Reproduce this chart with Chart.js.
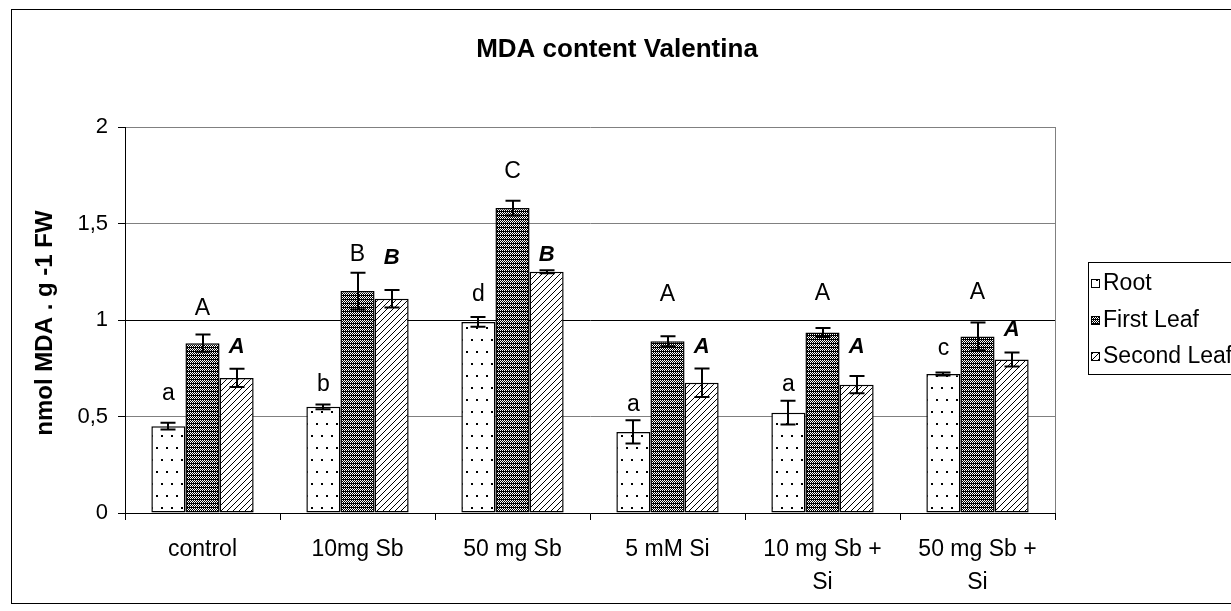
<!DOCTYPE html>
<html><head><meta charset="utf-8">
<script src="https://cdn.jsdelivr.net/npm/chart.js@4.4.0/dist/chart.umd.min.js"></script>
<style>html,body{margin:0;padding:0;background:#fff;}#wrap{position:relative;width:1231px;height:611px;}</style>
</head><body><div id="wrap"><canvas id="c" width="1231" height="611"></canvas></div>
<script>
const chartTitle = 'MDA content Valentina';
const yAxisTitle = 'nmol MDA . g -1 FW';
const categories = ['control', '10mg Sb', '50 mg Sb', '5 mM Si', ['10 mg Sb +', 'Si'], ['50 mg Sb +', 'Si']];
const seriesNames = ['Root', 'First Leaf', 'Second Leaf'];
const rootValues = [0.45, 0.55, 0.99, 0.42, 0.52, 0.72];
const rootErrors = [0.017, 0.012, 0.025, 0.06, 0.062, 0.008];
const firstLeafValues = [0.88, 1.15, 1.58, 0.89, 0.935, 0.915];
const firstLeafErrors = [0.045, 0.095, 0.038, 0.026, 0.023, 0.072];
const secondLeafValues = [0.70, 1.11, 1.25, 0.675, 0.665, 0.795];
const secondLeafErrors = [0.047, 0.045, 0.008, 0.074, 0.045, 0.036];
const rootLetters = ['a', 'b', 'd', 'a', 'a', 'c'];
const firstLeafLetters = ['A', 'B', 'C', 'A', 'A', 'A'];
const secondLeafLetters = ['A', 'B', 'B', 'A', 'A', 'A'];
const rootLetterLevels = [0.617, 0.663, 1.13, 0.56, 0.663, 0.85];
const firstLeafLetterLevels = [1.057, 1.337, 1.768, 1.13, 1.135, 1.14];
const secondLeafLetterLevels = [0.86, 1.32, 1.337, 0.86, 0.86, 0.948];
const yTickLabels = ['0', '0,5', '1', '1,5', '2'];

const FONT = "'Liberation Sans', Arial, sans-serif";

function makeTile(w, h, drawFn) {
  const c = document.createElement('canvas');
  c.width = w; c.height = h;
  const x = c.getContext('2d');
  drawFn(x, w, h);
  return x;
}
function patternOf(tileCtx) {
  const ctx = document.getElementById('c').getContext('2d');
  return ctx.createPattern(tileCtx.canvas, 'repeat');
}
const dotTile = makeTile(10, 24, (x, w, h) => {
  x.fillStyle = '#fff'; x.fillRect(0, 0, w, h);
  x.fillStyle = '#000'; x.fillRect(1, 3, 2, 2); x.fillRect(6, 15, 2, 2);
});
const checkTile = makeTile(4, 4, (x, w, h) => {
  x.fillStyle = '#000'; x.fillRect(0, 0, w, h);
  x.fillStyle = '#fff';
  [[0,0],[2,0],[1,1],[3,1],[0,2],[2,2]].forEach(p => x.fillRect(p[0], p[1], 1, 1));
});
const hatchTile = makeTile(6, 6, (x, w, h) => {
  x.fillStyle = '#fff'; x.fillRect(0, 0, w, h);
  x.fillStyle = '#000';
  for (let i = 0; i < 6; i++) { for (let j = 0; j < 6; j++) { if ((i + j) % 6 === 5) x.fillRect(i, j, 1, 1); } }
});
const fills = [patternOf(dotTile), patternOf(checkTile), patternOf(hatchTile)];

const errorsBySeries = [rootErrors, firstLeafErrors, secondLeafErrors];
const lettersBySeries = [rootLetters, firstLeafLetters, secondLeafLetters];
const letterLevelsBySeries = [rootLetterLevels, firstLeafLetterLevels, secondLeafLetterLevels];
const letterFonts = ['23px ' + FONT, '23px ' + FONT, 'italic bold 22px ' + FONT];

const overlay = {
  id: 'overlay',
  beforeDraw(chart) {
    const ctx = chart.ctx;
    ctx.save(); ctx.fillStyle = '#fff'; ctx.fillRect(0, 0, chart.width, chart.height); ctx.restore();
  },
  afterDatasetsDraw(chart) {
    const ctx = chart.ctx, ys = chart.scales.y;
    ctx.save();
    chart.data.datasets.forEach((ds, di) => {
      const meta = chart.getDatasetMeta(di);
      meta.data.forEach((bar, i) => {
        const v = ds.data[i], e = errorsBySeries[di][i];
        const yt = ys.getPixelForValue(v + e), yb = ys.getPixelForValue(v - e);
        const x = Math.round(bar.x);
        ctx.strokeStyle = '#000'; ctx.lineWidth = 2;
        ctx.beginPath();
        ctx.moveTo(x, yt); ctx.lineTo(x, yb);
        ctx.moveTo(x - 7.5, yt); ctx.lineTo(x + 7.5, yt);
        ctx.moveTo(x - 7.5, yb); ctx.lineTo(x + 7.5, yb);
        ctx.stroke();
        ctx.fillStyle = '#000';
        ctx.font = letterFonts[di];
        ctx.textAlign = 'center'; ctx.textBaseline = 'middle';
        ctx.fillText(lettersBySeries[di][i], bar.x, ys.getPixelForValue(letterLevelsBySeries[di][i]));
      });
    });
    ctx.restore();
  },
  afterDraw(chart) {
    const ctx = chart.ctx, a = chart.chartArea;
    ctx.save();
    ctx.strokeStyle = '#808080'; ctx.lineWidth = 1;
    ctx.beginPath(); ctx.moveTo(Math.round(a.right) + 0.5, a.top); ctx.lineTo(Math.round(a.right) + 0.5, a.bottom); ctx.stroke();
    ctx.fillStyle = '#000';
    ctx.font = 'bold 26px ' + FONT;
    ctx.textAlign = 'center'; ctx.textBaseline = 'middle';
    ctx.fillText(chartTitle, 617, 50);
    ctx.save();
    ctx.translate(45, (a.top + a.bottom) / 2 + 3);
    ctx.rotate(-Math.PI / 2);
    ctx.font = 'bold 24px ' + FONT;
    ctx.fillText(yAxisTitle, 0, 0);
    ctx.restore();
    const lx = 1088, ly = 262, lw = 200, lh = 112;
    ctx.strokeStyle = '#000'; ctx.lineWidth = 1;
    ctx.fillStyle = '#fff';
    ctx.fillRect(lx + 0.5, ly + 0.5, lw, lh);
    ctx.strokeRect(lx + 0.5, ly + 0.5, lw, lh);
    const rows = [284, 321, 357];
    chart.data.datasets.forEach((ds, di) => {
      const cy = rows[di];
      ctx.fillStyle = ds.backgroundColor;
      ctx.fillRect(1091, cy - 5, 9, 9);
      ctx.strokeStyle = '#000'; ctx.lineWidth = 1;
      ctx.strokeRect(1091.5, cy - 4.5, 8, 8);
      ctx.fillStyle = '#000';
      ctx.font = '23px ' + FONT;
      ctx.textAlign = 'left'; ctx.textBaseline = 'middle';
      ctx.fillText(ds.label, 1103, cy);
    });
    ctx.strokeStyle = '#000'; ctx.lineWidth = 1;
    ctx.strokeRect(11.5, 9.5, 1240, 594);
    ctx.restore();
  }
};

const datasets = [rootValues, firstLeafValues, secondLeafValues].map((vals, i) => ({
  label: seriesNames[i],
  data: vals,
  backgroundColor: fills[i],
  borderColor: '#000',
  borderWidth: 1.5,
  borderSkipped: false,
  barPercentage: 1.0,
  categoryPercentage: 0.66
}));

new Chart(document.getElementById('c'), {
  type: 'bar',
  data: { labels: categories, datasets },
  options: {
    responsive: false,
    animation: false,
    devicePixelRatio: 1,
    layout: { padding: { left: 0, right: 176, top: 127, bottom: 0 } },
    plugins: { legend: { display: false }, title: { display: false }, tooltip: { enabled: false } },
    scales: {
      x: {
        afterFit: s => { s.height = 98; },
        grid: { display: true, drawOnChartArea: false, drawTicks: true, tickLength: 7, tickColor: '#000', offset: true },
        border: { display: true, color: '#000', width: 1 },
        ticks: { color: '#000', font: { family: FONT, size: 23, lineHeight: 1.4 }, padding: 14, maxRotation: 0, autoSkip: false }
      },
      y: {
        min: 0, max: 2,
        afterFit: s => { s.width = 125; },
        grid: { color: c => (c.tick && c.tick.value === 1 ? '#000' : '#808080'), tickColor: '#000', tickLength: 7, lineWidth: 1 },
        border: { display: true, color: '#000', width: 1 },
        ticks: { stepSize: 0.5, color: '#000', font: { family: FONT, size: 22 }, padding: 10,
          callback: (v, idx) => yTickLabels[idx] }
      }
    }
  },
  plugins: [overlay]
});
</script>
</body></html>
